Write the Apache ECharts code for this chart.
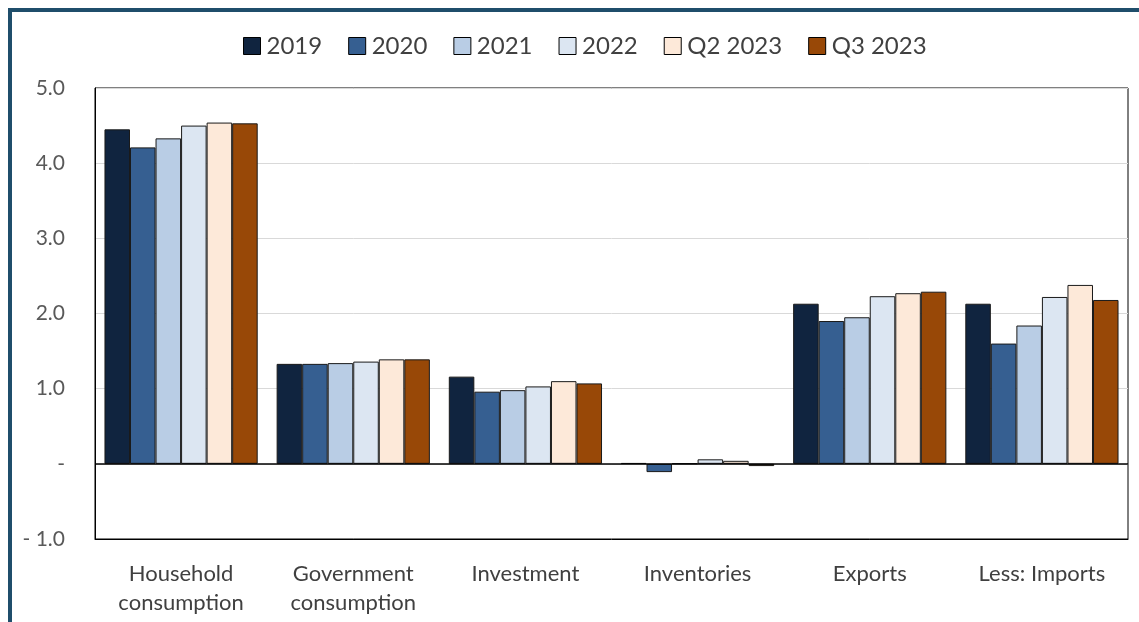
<!DOCTYPE html>
<html>
<head>
<meta charset="utf-8">
<script src="https://cdn.jsdelivr.net/npm/echarts@6/dist/echarts.min.js"></script>
<style>
  html, body { margin: 0; padding: 0; background: #ffffff; }
  #chart { width: 1139px; height: 622px; }
</style>
</head>
<body>
<div id="chart"></div>
<script>
// Contributions by GDP component, per period
const categories = ['Household\nconsumption', 'Government\nconsumption', 'Investment', 'Inventories', 'Exports', 'Less: Imports'];
const periods = ['2019', '2020', '2021', '2022', 'Q2 2023', 'Q3 2023'];
const colors = ['#10243f', '#365f91', '#b9cde5', '#dce6f2', '#fde9d9', '#984807'];

const v2019   = [4.45, 1.33, 1.16, 0.01, 2.13, 2.13];
const v2020   = [4.21, 1.33, 0.96, -0.11, 1.90, 1.60];
const v2021   = [4.33, 1.34, 0.98, 0.005, 1.95, 1.84];
const v2022   = [4.50, 1.36, 1.03, 0.06, 2.23, 2.22];
const vQ22023 = [4.54, 1.39, 1.10, 0.04, 2.27, 2.38];
const vQ32023 = [4.53, 1.39, 1.07, -0.03, 2.29, 2.18];
const values = [v2019, v2020, v2021, v2022, vQ22023, vQ32023];

const yTicks = { min: -1, max: 5, interval: 1 };
const font = 'Lato, "Open Sans", sans-serif';

const chart = echarts.init(document.getElementById('chart'));

const series = periods.map((name, i) => ({
  name: name,
  type: 'bar',
  data: values[i],
  barGap: '0%',
  barCategoryGap: '11%',
  itemStyle: { color: colors[i], borderColor: '#1a1a1a', borderWidth: 1 },
  markLine: i === 0 ? {
    silent: true,
    symbol: 'none',
    label: { show: false },
    lineStyle: { color: '#000000', width: 1.5, type: 'solid' },
    data: [{ yAxis: 0 }]
  } : undefined
}));

chart.setOption({
  animation: false,
  backgroundColor: '#ffffff',
  color: colors,
  graphic: [{
    type: 'rect',
    shape: { x: 10, y: 10, width: 1300, height: 800 },
    style: { fill: 'none', stroke: '#1f4e6b', lineWidth: 4 },
    z: 100
  }],
  legend: {
    top: 29,
    left: 238,
    itemWidth: 17,
    itemHeight: 17,
    itemGap: 26,
    icon: 'rect',
    textStyle: { fontFamily: font, fontSize: 24, color: '#404040', padding: [0, 0, 0, 1] },
    itemStyle: { borderColor: '#000000', borderWidth: 1 },
    data: periods
  },
  grid: {
    left: 95, right: 11, top: 88, bottom: 83,
    show: true,
    borderColor: '#000000',
    borderWidth: 1
  },
  xAxis: {
    type: 'category',
    data: categories,
    axisLine: { onZero: false, lineStyle: { color: '#000000' } },
    axisTick: { show: false },
    axisLabel: { fontFamily: font, fontSize: 22, color: '#404040', margin: 20, lineHeight: 29 }
  },
  yAxis: {
    type: 'value',
    min: yTicks.min,
    max: yTicks.max,
    interval: yTicks.interval,
    axisLine: { show: true, lineStyle: { color: '#000000' } },
    axisTick: { show: false },
    splitLine: { lineStyle: { color: '#d9d9d9', width: 1 } },
    axisLabel: {
      fontFamily: font, fontSize: 21, color: '#595959', margin: 30,
      formatter: v => v === 0 ? '-' : (v < 0 ? '- ' + Math.abs(v).toFixed(1) : v.toFixed(1))
    }
  },
  series: series
});
</script>
</body>
</html>
